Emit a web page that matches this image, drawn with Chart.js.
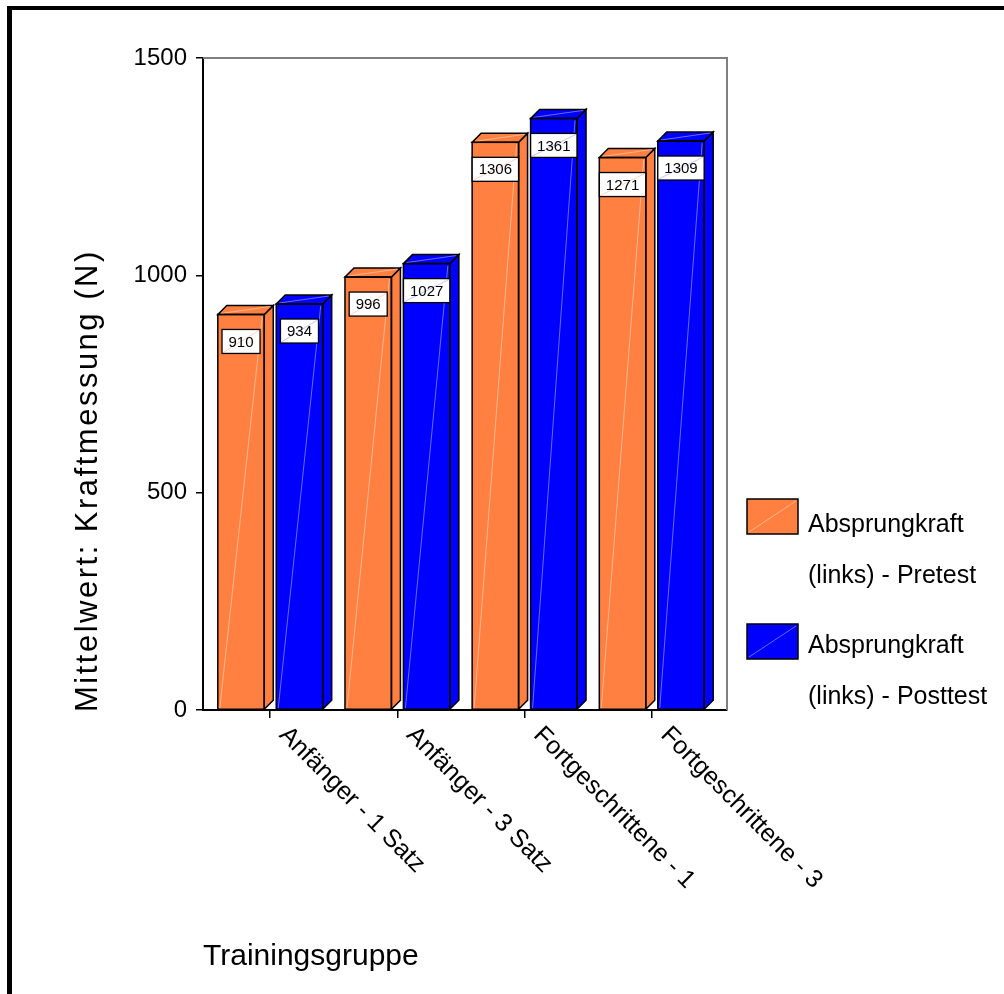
<!DOCTYPE html>
<html><head><meta charset="utf-8">
<script src="https://cdn.jsdelivr.net/npm/chart.js@4.4.0/dist/chart.umd.min.js"></script>
<style>html,body{margin:0;padding:0;background:#fff;} canvas{display:block;}</style>
</head><body>
<canvas id="c" width="1004" height="994"></canvas>
<script>
const categories = ['Anfänger - 1 Satz', 'Anfänger - 3 Satz', 'Fortgeschrittene - 1', 'Fortgeschrittene - 3'];
const seriesNames = ['Absprungkraft (links) - Pretest', 'Absprungkraft (links) - Posttest'];
const pretest = [910, 996, 1306, 1271];
const posttest = [934, 1027, 1361, 1309];
const yTicks = [0, 500, 1000, 1500];
const yTitle = 'Mittelwert: Kraftmessung (N)';
const xTitle = 'Trainingsgruppe';

const COLORS = ['#ff8040', '#0000ff'];
const DIAG_ON = ['rgba(255,215,190,0.6)', 'rgba(150,150,255,0.7)'];
const DIAG_WHITE = ['rgba(255,170,130,0.5)', 'rgba(140,140,255,0.5)'];
const FONT = '"Liberation Sans", Arial, Helvetica, sans-serif';
const DEPTH = 9;

const frame3d = {
  id: 'frame3d',
  beforeDraw(chart) {
    const ctx = chart.ctx;
    ctx.save();
    ctx.fillStyle = '#fff';
    ctx.fillRect(0, 0, chart.width, chart.height);
    ctx.fillStyle = '#000';
    ctx.fillRect(7, 6, chart.width - 7, 4);
    ctx.fillRect(7, 6, 5, chart.height - 6);
    ctx.restore();
  },
  beforeDatasetsDraw(chart) {
    const ctx = chart.ctx, a = chart.chartArea;
    ctx.save();
    ctx.strokeStyle = '#808080';
    ctx.lineWidth = 2;
    ctx.beginPath();
    ctx.moveTo(a.left, a.top);
    ctx.lineTo(a.right, a.top);
    ctx.lineTo(a.right, a.bottom);
    ctx.stroke();
    ctx.restore();
  },
  afterDatasetsDraw(chart) {
    const ctx = chart.ctx;
    chart.data.datasets.forEach((ds, di) => {
      const meta = chart.getDatasetMeta(di);
      meta.data.forEach((bar, i) => {
        const p = bar.getProps(['x', 'y', 'base', 'width'], true);
        const l = p.x - p.width / 2, r = p.x + p.width / 2, t = p.y, b = p.base, D = DEPTH;
        ctx.save();
        ctx.fillStyle = COLORS[di];
        ctx.strokeStyle = '#000';
        ctx.lineWidth = 1.5;
        ctx.lineJoin = 'miter';
        ctx.beginPath();
        ctx.moveTo(r, t); ctx.lineTo(r + D, t - D); ctx.lineTo(r + D, b - D); ctx.lineTo(r, b); ctx.closePath();
        ctx.fill(); ctx.stroke();
        ctx.beginPath();
        ctx.moveTo(l, t); ctx.lineTo(l + D, t - D); ctx.lineTo(r + D, t - D); ctx.lineTo(r, t); ctx.closePath();
        ctx.fill(); ctx.stroke();
        ctx.strokeStyle = DIAG_ON[di];
        ctx.lineWidth = 1;
        ctx.beginPath();
        ctx.moveTo(l + 2, b - 1); ctx.lineTo(r - 2, t + 2);
        ctx.moveTo(l + 3, t - 1); ctx.lineTo(r + D - 3, t - D + 1);
        ctx.stroke();
        ctx.strokeStyle = '#000';
        ctx.lineWidth = 1.5;
        ctx.strokeRect(l, t, r - l, b - t);
        const txt = String(ds.data[i].y);
        ctx.font = '15px ' + FONT;
        const tw = ctx.measureText(txt).width;
        const bw = tw + 13, bh = 24, bx = p.x - bw / 2, by = t + 15;
        ctx.fillStyle = '#fff';
        ctx.fillRect(bx, by, bw, bh);
        ctx.strokeStyle = DIAG_WHITE[di];
        ctx.lineWidth = 1;
        ctx.beginPath(); ctx.moveTo(bx + 1, by + bh - 1); ctx.lineTo(bx + bw - 1, by + 1); ctx.stroke();
        ctx.strokeStyle = '#000';
        ctx.lineWidth = 1.3;
        ctx.strokeRect(bx, by, bw, bh);
        ctx.fillStyle = '#000';
        ctx.textAlign = 'center';
        ctx.textBaseline = 'middle';
        ctx.fillText(txt, p.x, by + bh / 2 + 1);
        ctx.restore();
      });
    });
  },
  afterDraw(chart) {
    const ctx = chart.ctx, xs = chart.scales.x, a = chart.chartArea;
    ctx.save();
    ctx.fillStyle = '#000';
    // y axis title
    ctx.save();
    ctx.font = '31px ' + FONT;
    if ('letterSpacing' in ctx) ctx.letterSpacing = '2.5px';
    ctx.translate(88, a.bottom + 2);
    ctx.rotate(-Math.PI / 2);
    ctx.textAlign = 'left';
    ctx.textBaseline = 'middle';
    ctx.fillText(yTitle, 0, 0);
    ctx.restore();
    // rotated category labels
    ctx.font = '25px ' + FONT;
    ctx.textAlign = 'left';
    ctx.textBaseline = 'alphabetic';
    categories.forEach((c, i) => {
      const px = xs.getPixelForValue(i);
      ctx.save();
      ctx.translate(px + 8, 736);
      ctx.rotate(Math.PI / 4);
      ctx.fillText(c, 0, 0);
      ctx.restore();
    });
    // legend
    ctx.font = '25px ' + FONT;
    chart.data.datasets.forEach((ds, di) => {
      const bx = 747, by = 499 + di * 125, bw = 51, bh = 35;
      ctx.fillStyle = COLORS[di];
      ctx.fillRect(bx, by, bw, bh);
      ctx.strokeStyle = DIAG_ON[di];
      ctx.lineWidth = 1;
      ctx.beginPath(); ctx.moveTo(bx + 2, by + bh - 2); ctx.lineTo(bx + bw - 2, by + 2); ctx.stroke();
      ctx.strokeStyle = '#000';
      ctx.lineWidth = 1.5;
      ctx.strokeRect(bx, by, bw, bh);
      const name = ds.label;
      const k = name.indexOf(' ');
      const lines = [name.slice(0, k), name.slice(k + 1)];
      ctx.fillStyle = '#000';
      ctx.textAlign = 'left';
      ctx.textBaseline = 'alphabetic';
      lines.forEach((ln, li) => ctx.fillText(ln, 808, 532 + di * 121 + li * 50.5));
    });
    ctx.restore();
  }
};

const toPoints = arr => arr.map((v, i) => ({ x: i, y: v }));

new Chart(document.getElementById('c'), {
  type: 'bar',
  data: {
    datasets: [
      { label: seriesNames[0], data: toPoints(pretest), backgroundColor: COLORS[0], borderWidth: 0 },
      { label: seriesNames[1], data: toPoints(posttest), backgroundColor: COLORS[1], borderWidth: 0 }
    ]
  },
  options: {
    responsive: false,
    animation: false,
    events: [],
    layout: { padding: { left: 0, top: 58, right: 277, bottom: 0 } },
    datasets: { bar: { categoryPercentage: 0.919, barPercentage: 0.795 } },
    plugins: { legend: { display: false }, tooltip: { enabled: false } },
    scales: {
      x: {
        type: 'linear',
        offset: false,
        min: -0.5288,
        max: 3.5917,
        afterBuildTicks: axis => { axis.ticks = categories.map((c, i) => ({ value: i })); },
        afterFit: axis => { axis.height = 284; },
        ticks: { display: false },
        grid: { display: true, offset: false, drawOnChartArea: false, drawTicks: true, tickLength: 8, color: '#000', lineWidth: 1.5 },
        border: { display: true, color: '#000', width: 2 },
        title: { display: true, text: xTitle, align: 'start', color: '#000', font: { family: FONT, size: 30 }, padding: { top: 0, bottom: 19 } }
      },
      y: {
        type: 'linear',
        min: 0,
        max: 1500,
        afterBuildTicks: axis => { axis.ticks = yTicks.map(v => ({ value: v })); },
        afterFit: axis => { axis.width = 203; },
        ticks: { color: '#000', font: { family: FONT, size: 24 }, padding: 9, callback: v => String(v) },
        grid: { display: true, drawOnChartArea: false, drawTicks: true, tickLength: 7, color: '#000', lineWidth: 1.5 },
        border: { display: true, color: '#000', width: 2 },
        title: { display: false }
      }
    }
  },
  plugins: [frame3d]
});
</script>
</body></html>
